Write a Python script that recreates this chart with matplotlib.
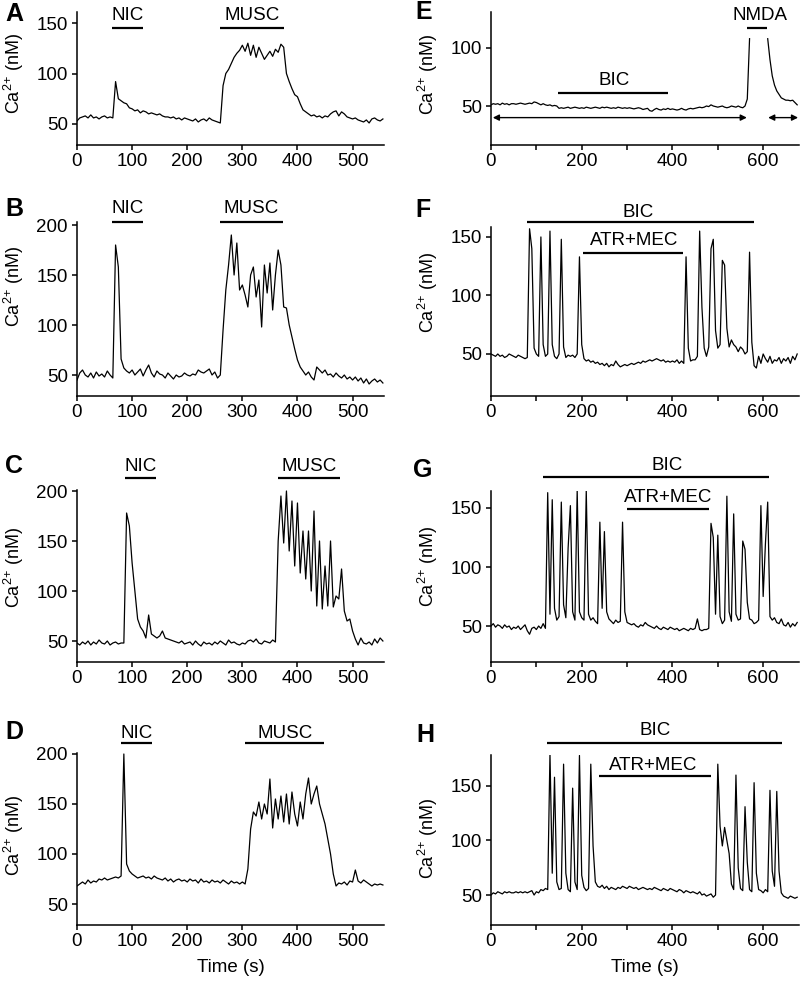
import numpy as np
import matplotlib
matplotlib.use('Agg')
import matplotlib.pyplot as plt

plt.rcParams['font.family'] = ['Liberation Sans', 'DejaVu Sans']
plt.rcParams['mathtext.default'] = 'regular'

nan = np.nan

# time grid of the recordings (s), one sample every 5 s
t_left = np.arange(0, 560, 5)
t_right = np.arange(0, 680, 5)

# Ca2+ traces (nM)
ca_a = [53, 56, 57, 58, 56, 59, 56, 57, 55, 57,
        58, 56, 57, 56, 92, 75, 73, 71, 70, 66,
        65, 63, 64, 61, 63, 62, 60, 61, 60, 59,
        60, 58, 57, 57, 56, 57, 55, 56, 54, 56,
        55, 54, 53, 55, 52, 54, 55, 53, 56, 54,
        53, 52, 51, 88, 100, 104, 110, 116, 120, 123,
        128, 122, 130, 118, 128, 116, 126, 120, 114, 118,
        122, 117, 124, 121, 129, 126, 100, 92, 85, 79,
        77, 70, 64, 62, 60, 58, 59, 57, 58, 56,
        58, 57, 60, 62, 63, 58, 62, 60, 57, 56,
        55, 56, 54, 53, 52, 54, 51, 55, 56, 54,
        53, 55]

ca_b = [45, 52, 55, 50, 48, 52, 47, 53, 49, 51,
        48, 54, 50, 47, 180, 158, 66, 57, 54, 52,
        55, 50, 53, 56, 49, 55, 60, 52, 48, 54,
        51, 50, 47, 52, 49, 46, 50, 48, 49, 52,
        50, 49, 51, 50, 55, 53, 52, 54, 56, 50,
        53, 47, 50, 95, 135, 160, 190, 150, 182, 135,
        140, 130, 118, 150, 158, 128, 145, 98, 160, 132,
        162, 115, 150, 175, 160, 118, 117, 100, 88, 76,
        65, 58, 54, 50, 53, 48, 45, 58, 55, 52,
        55, 50, 51, 48, 52, 49, 47, 50, 46, 48,
        45, 48, 44, 47, 42, 46, 41, 44, 46, 43,
        45, 42]

ca_c = [48, 46, 49, 47, 50, 46, 49, 47, 51, 48,
        47, 50, 46, 48, 49, 47, 48, 48, 178, 165,
        128, 100, 72, 64, 60, 53, 76, 57, 55, 53,
        55, 60, 53, 52, 51, 50, 49, 48, 50, 47,
        48, 49, 46, 50, 47, 45, 49, 47, 48, 46,
        49, 47, 50, 48, 46, 51, 48, 49, 47, 46,
        48, 47, 50, 51, 49, 52, 48, 47, 50, 49,
        48, 51, 49, 150, 195, 148, 200, 140, 190, 125,
        188, 118, 160, 112, 160, 100, 180, 85, 150, 82,
        125, 85, 150, 84, 95, 92, 122, 80, 70, 72,
        60, 52, 46, 53, 48, 47, 49, 46, 52, 48,
        53, 50]

ca_d = [68, 70, 72, 70, 74, 71, 73, 72, 75, 74,
        76, 74, 75, 76, 77, 76, 78, 200, 90, 83,
        80, 78, 76, 77, 78, 76, 77, 75, 78, 76,
        75, 74, 76, 73, 75, 72, 74, 75, 73, 74,
        72, 75, 73, 74, 71, 75, 72, 73, 71, 74,
        72, 73, 71, 74, 72, 70, 73, 71, 72, 70,
        72, 70, 85, 125, 142, 138, 152, 135, 150, 140,
        175, 126, 155, 135, 158, 132, 160, 130, 162, 140,
        128, 152, 135, 160, 176, 150, 160, 168, 150, 140,
        130, 115, 100, 80, 68, 71, 70, 72, 69, 73,
        72, 84, 73, 71, 74, 72, 70, 68, 70, 69,
        70, 69]

ca_e = [51, 52, 51.5, 52, 51, 52.5, 51.5, 52, 51, 52,
        52, 51.5, 52, 52.5, 52, 51.5, 52, 52.5, 52, 53.5,
        53, 52, 51, 52, 51, 50.5, 51, 50, 50.5, 50,
        48, 48.5, 48, 48.5, 49, 48, 48.5, 49, 48.5, 48,
        48.5, 48, 49, 48.5, 48, 48.5, 49, 48.5, 48, 49,
        48.5, 49, 48.5, 48, 48.5, 48, 49, 48.5, 48, 48.5,
        48, 48.5, 48, 47.5, 48, 48.5, 48, 47, 47.5, 48,
        46, 45.5, 47, 48, 47, 46.5, 47.5, 47, 48, 47,
        47.5, 47, 46.5, 47, 48, 47, 46.5, 47.5, 48, 47.5,
        48, 48.5, 49, 48.5, 49, 50, 49.5, 51, 50, 49.5,
        49, 49.5, 50, 49, 48.5, 49, 50, 49.5, 49, 50,
        49, 48.5, 50, 56, 108, nan, nan, nan, nan, nan,
        nan, nan, 108, 90, 76, 68, 63, 60, 57, 56,
        55, 55, 54.5, 55, 53, 51]

ca_f = [50, 49, 48, 50, 48, 49, 47, 48, 50, 49,
        48, 47, 49, 48, 47, 46, 47, 157, 140, 55,
        50, 48, 150, 58, 48, 50, 155, 58, 48, 46,
        50, 148, 56, 47, 49, 48, 49, 47, 50, 133,
        58, 46, 44, 45, 43, 44, 42, 43, 41, 42,
        40, 42, 39, 41, 40, 44, 41, 39, 40, 41,
        40, 41, 42, 41, 42, 43, 42, 44, 43, 44,
        45, 44, 45, 46, 45, 44, 45, 43, 44, 43,
        44, 43, 45, 42, 44, 42, 133, 55, 44, 45,
        45, 48, 155, 90, 55, 48, 56, 140, 148, 70,
        55, 58, 130, 126, 72, 56, 62, 58, 56, 52,
        56, 54, 50, 52, 137, 60, 40, 38, 48, 42,
        50, 46, 43, 48, 42, 45, 44, 47, 42, 46,
        44, 47, 42, 48, 45, 50]

ca_g = [50, 52, 49, 51, 50, 48, 51, 49, 50, 47,
        49, 48, 50, 47, 49, 51, 46, 43, 48, 49,
        47, 50, 48, 52, 48, 163, 60, 157, 65, 55,
        58, 155, 68, 57, 116, 152, 62, 55, 165, 62,
        57, 55, 165, 60, 55, 57, 54, 52, 138, 65,
        130, 62, 56, 54, 52, 55, 53, 54, 138, 62,
        53, 52, 51, 52, 50, 49, 51, 50, 53, 51,
        50, 49, 48, 50, 48, 47, 49, 48, 47, 49,
        48, 47, 48, 46, 47, 48, 47, 46, 48, 47,
        48, 56, 47, 46, 47, 47, 48, 137, 125, 60,
        127, 58, 52, 55, 160, 62, 54, 145, 60, 55,
        56, 122, 115, 70, 56, 55, 52, 53, 55, 152,
        75, 120, 155, 58, 55, 57, 53, 52, 56, 51,
        50, 53, 49, 52, 50, 53]

ca_h = [50, 52, 51, 53, 52, 51, 53, 52, 53, 52,
        52, 53, 52, 53, 52, 53, 52, 53, 54, 50,
        53, 52, 55, 54, 56, 55, 180, 70, 158, 62,
        55, 56, 170, 70, 55, 53, 148, 62, 55, 178,
        68, 57, 54, 56, 170, 95, 62, 58, 57, 59,
        56, 58, 55, 57, 56, 55, 57, 56, 58, 57,
        56, 58, 57, 56, 57, 55, 56, 57, 56, 55,
        56, 55, 57, 56, 55, 54, 56, 55, 54, 56,
        55, 54, 53, 55, 54, 52, 54, 53, 52, 53,
        52, 51, 53, 50, 51, 49, 50, 51, 48, 50,
        170, 113, 95, 112, 100, 88, 60, 55, 160, 75,
        56, 54, 131, 80, 55, 53, 153, 70, 55, 54,
        52, 55, 53, 146, 72, 58, 145, 72, 52, 49,
        48, 47, 49, 48, 47, 48]

# drug applications: (label, start s, end s, bar level, label x, label baseline)
events_a = [('NIC', 64, 120, 145, 92, 153), ('MUSC', 260, 376, 145, 318, 153)]
events_b = [('NIC', 63, 120, 203, 92, 212), ('MUSC', 259, 373, 203, 316, 212)]
events_c = [('NIC', 87, 144, 213, 116, 220), ('MUSC', 364, 478, 213, 421, 220)]
events_d = [('NIC', 80, 136, 211, 108, 216), ('MUSC', 305, 449, 211, 377, 216)]
events_e = [('BIC', 148, 390, 61, 271, 68), ('NMDA', 564, 608, 117, 593, 124)]
events_f = [('BIC', 79, 580, 162.8, 324, 167.4), ('ATR+MEC', 203, 423, 136.3, 315, 143)]
events_g = [('BIC', 114, 613, 176.3, 388, 182), ('ATR+MEC', 300, 481, 149.2, 391, 155.3)]
events_h = [('BIC', 123, 641, 189.4, 362, 196.8), ('ATR+MEC', 238, 485, 159.2, 358, 164.7)]

W, H = 800, 988
fig = plt.figure(figsize=(W / 100, H / 100), dpi=100)
fig.patch.set_facecolor('white')

FS = 13.5


def panel(box, t, ca, xlim, ylim, yticks, xticks, xlabels, events, ylab_xy, letter, letter_xy):
    x0, x1, y0, y1 = box
    ax = fig.add_axes([x0 / W, 1 - y1 / H, (x1 - x0) / W, (y1 - y0) / H])
    ax.plot(t, ca, color='black', lw=0.9)
    ax.set_xlim(*xlim)
    ax.set_ylim(*ylim)
    ax.set_yticks(yticks)
    ax.set_xticks(xticks)
    ax.set_xticklabels(xlabels)
    for s in ['top', 'right']:
        ax.spines[s].set_visible(False)
    for s in ['left', 'bottom']:
        ax.spines[s].set_linewidth(1.1)
    ax.tick_params(direction='out', length=3.6, width=1.1, labelsize=FS)
    ax.tick_params(axis='x', pad=2.5)
    ax.tick_params(axis='y', pad=3)
    ax.set_ylabel('Ca$^{2{+}}$ (nM)', fontsize=13)
    ax.yaxis.set_label_coords(*ylab_xy)
    for lab, a, b, yb, xt, yt in events:
        ax.plot([a, b], [yb, yb], color='black', lw=1.6, clip_on=False,
                solid_capstyle='butt')
        ax.text(xt, yt, lab, ha='center', va='baseline', fontsize=FS, clip_on=False)
    fig.text(letter_xy[0] / W, 1 - letter_xy[1] / H, letter, ha='center', va='center',
             fontsize=18, fontweight='bold')
    return ax


left_ticks = np.arange(0, 600, 100)
left_labels = [str(v) for v in left_ticks]
right_ticks = np.arange(0, 700, 100)
right_labels = [str(v) if v % 200 == 0 else '' for v in right_ticks]

xl_left = (0, 557)
xl_right = (0, 679)
LX0, LX1 = 77, 384
RX0, RX1 = 491, 799
LY = -0.166
RY = -0.166

panel((LX0, LX1, 12, 145), t_left, ca_a, xl_left, (29.2, 160.9), [50, 100, 150],
      left_ticks, left_labels, events_a, (LY, 0.54), 'A', (14, 14))
panel((LX0, LX1, 222, 396), t_left, ca_b, xl_left, (29, 203), [50, 100, 150, 200],
      left_ticks, left_labels, events_b, (LY, 0.63), 'B', (14, 209))
panel((LX0, LX1, 490, 662), t_left, ca_c, xl_left, (29, 201), [50, 100, 150, 200],
      left_ticks, left_labels, events_c, (LY, 0.55), 'C', (14, 466))
ax_d = panel((LX0, LX1, 753, 925), t_left, ca_d, xl_left, (29, 201), [50, 100, 150, 200],
             left_ticks, left_labels, events_d, (LY, 0.52), 'D', (14, 732))
ax_d.set_xlabel('Time (s)', fontsize=FS, labelpad=6)

ax_e = panel((RX0, RX1, 12, 145), t_right, ca_e, xl_right, (16.4, 131), [50, 100],
             right_ticks, right_labels, events_e, (RY, 0.53), 'E', (424, 12))
for a, b in [(4, 564), (611, 677)]:
    ax_e.annotate('', xy=(a, 40), xytext=(b, 40),
                  arrowprops=dict(arrowstyle='<|-|>', color='black', lw=1,
                                  mutation_scale=9, shrinkA=0, shrinkB=0))
panel((RX0, RX1, 227, 396), t_right, ca_f, xl_right, (14.1, 158.5), [50, 100, 150],
      right_ticks, right_labels, events_f, (RY, 0.61), 'F', (423, 210))
panel((RX0, RX1, 491, 662), t_right, ca_g, xl_right, (19.5, 164.4), [50, 100, 150],
      right_ticks, right_labels, events_g, (RY, 0.556), 'G', (423, 470))
ax_h = panel((RX0, RX1, 755, 925), t_right, ca_h, xl_right, (22.5, 178.4), [50, 100, 150],
             right_ticks, right_labels, events_h, (RY, 0.51), 'H', (425, 735))
ax_h.set_xlabel('Time (s)', fontsize=FS, labelpad=6)

fig.savefig('out.png', dpi=100, facecolor='white')
